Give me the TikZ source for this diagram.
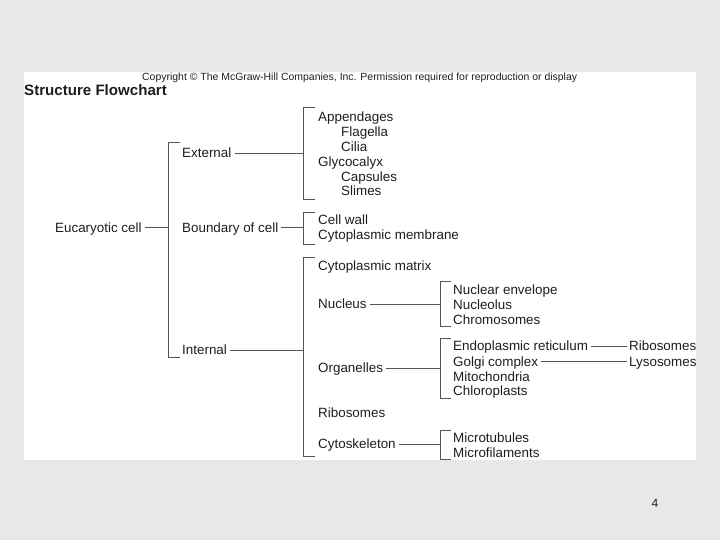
\documentclass[tikz,border=0pt]{standalone}
\usepackage{fontspec}
\setmainfont{Liberation Sans}
\definecolor{bg}{HTML}{E8E8E8}
\definecolor{txt}{HTML}{1E1E1E}
\definecolor{ln}{HTML}{555555}
\begin{document}
\begin{tikzpicture}[x=1pt,y=-1pt,
  lbl/.style={anchor=west, inner sep=0pt, text height=9.6pt, text depth=0pt,
              font=\fontsize{13.4}{15}\selectfont, text=txt},
  conn/.style={draw=ln, line width=0.8pt, shorten <=3pt},
  brk/.style={draw=ln, line width=0.8pt}]
\useasboundingbox (0,0) rectangle (720,540);
\fill[bg] (0,0) rectangle (720,540);
\fill[white] (24,72) rectangle (696,460);

% header
\node[anchor=base west, inner sep=0pt, text=txt, font=\fontsize{10.45}{12}\selectfont] (copy) at (142,81)
  {Copyright \textcopyright{} The McGraw-Hill Companies, Inc. Permission required for reproduction or display};
\node[anchor=base west, inner sep=0pt, text=txt, font=\bfseries\fontsize{15.1}{17}\selectfont] (title) at (24,96)
  {Structure Flowchart};
\node[text=txt, inner sep=0pt, font=\fontsize{12}{14}\selectfont] (pg) at (655,503) {4};

% bracket spines
\coordinate (bA) at (168,0);
\coordinate (bB) at (303,0);
\coordinate (bN) at (440,0);

% brackets
\draw[brk] (180,142) -- (168,142) -- (168,357) -- (180,357);
\draw[brk] (315,107) -- (303,107) -- (303,199) -- (315,199);
\draw[brk] (315,212) -- (303,212) -- (303,244) -- (315,244);
\draw[brk] (315,257) -- (303,257) -- (303,456) -- (315,456);
\draw[brk] (451,281) -- (440,281) -- (440,326) -- (451,326);
\draw[brk] (451,338) -- (440,338) -- (440,398) -- (451,398);
\draw[brk] (451,430) -- (440,430) -- (440,459) -- (451,459);

% level 0
\node[lbl] (euc) at (55,227.5) {Eucaryotic cell};
% level 1
\node[lbl] (ext) at (182,153) {External};
\node[lbl] (bnd) at (182,227.5) {Boundary of cell};
\node[lbl] (int) at (182,350) {Internal};
% external items
\node[lbl] (app) at (318,116.7) {Appendages};
\node[lbl] (fla) at (341,131.6) {Flagella};
\node[lbl] (cil) at (341,146.5) {Cilia};
\node[lbl] (gly) at (318,161.4) {Glycocalyx};
\node[lbl] (cap) at (341,176.3) {Capsules};
\node[lbl] (sli) at (341,191.2) {Slimes};
% boundary items
\node[lbl] (cw) at (318,219.5) {Cell wall};
\node[lbl] (cm) at (318,234.5) {Cytoplasmic membrane};
% internal items
\node[lbl] (cmx) at (318,266) {Cytoplasmic matrix};
\node[lbl] (nuc) at (318,304) {Nucleus};
\node[lbl] (org) at (318,368) {Organelles};
\node[lbl] (rib) at (318,413) {Ribosomes};
\node[lbl] (csk) at (318,444) {Cytoskeleton};
% nucleus items
\node[lbl] (ne) at (453,289.5) {Nuclear envelope};
\node[lbl] (nl) at (453,304.3) {Nucleolus};
\node[lbl] (chr) at (453,319.3) {Chromosomes};
% organelle items
\node[lbl] (er) at (453,346) {Endoplasmic reticulum};
\node[lbl] (gc) at (453,361.3) {Golgi complex};
\node[lbl] (mit) at (453,376.3) {Mitochondria};
\node[lbl] (chl) at (453,391) {Chloroplasts};
\node[lbl] (ribo) at (629,346) {Ribosomes};
\node[lbl] (lys) at (629,361.3) {Lysosomes};
% cytoskeleton items
\node[lbl] (mtu) at (453,437.3) {Microtubules};
\node[lbl] (mfi) at (453,452.3) {Microfilaments};

% connectors
\draw[conn] (euc.east) -- (euc.east -| bA);
\draw[conn] (ext.east) -- (ext.east -| bB);
\draw[conn] (bnd.east) -- (bnd.east -| bB);
\draw[conn] (int.east) -- (int.east -| bB);
\draw[conn] (nuc.east) -- (nuc.east -| bN);
\draw[conn] (org.east) -- (org.east -| bN);
\draw[conn] (csk.east) -- (csk.east -| bN);
\draw[conn, shorten >=2pt] (er.east) -- (ribo.west);
\draw[conn, shorten >=2pt] (gc.east) -- (lys.west);
\end{tikzpicture}
\end{document}
